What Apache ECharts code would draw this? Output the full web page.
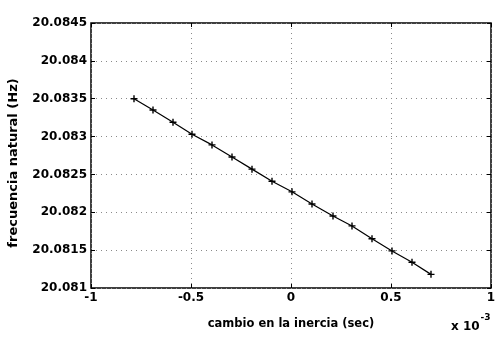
<!DOCTYPE html>
<html>
<head>
<meta charset="utf-8">
<script src="https://cdn.jsdelivr.net/npm/echarts@6/dist/echarts.min.js"></script>
<style>html,body{margin:0;padding:0;background:#fff;}#c{width:504px;height:342px;}</style>
</head>
<body>
<div id="c"></div>
<script>
// x values in units of 1e-3 sec
var inertiaChange = [-0.785, -0.69, -0.59, -0.495, -0.395, -0.295, -0.195, -0.095, 0.005, 0.105, 0.21, 0.305, 0.405, 0.505, 0.605, 0.70];
var naturalFreq = [20.08350, 20.08335, 20.08319, 20.08303, 20.08289, 20.08273, 20.08257, 20.08241, 20.08227, 20.08211, 20.08195, 20.08182, 20.08165, 20.08149, 20.08134, 20.08118];
var xTickLabels = ['-1', '-0.5', '0', '0.5', '1'];
var yTickLabels = ['20.081', '20.0815', '20.082', '20.0825', '20.083', '20.0835', '20.084', '20.0845'];
var xTitle = 'cambio en la inercia (sec)';
var yTitle = 'frecuencia natural (Hz)';

var FONT = 'DejaVu Sans';
var chart = echarts.init(document.getElementById('c'), null, {renderer: 'canvas'});
var data = inertiaChange.map(function (x, i) { return [x, naturalFreq[i]]; });
var gridLine = {show: true, lineStyle: {color: '#8a8a8a', type: [1, 4], width: 1}};
var tick = {show: true, inside: true, length: 4, lineStyle: {color: '#000'}};
chart.setOption({
  animation: false,
  backgroundColor: '#fff',
  grid: {left: 91, right: 13, top: 23, bottom: 54, show: true, borderColor: '#000', borderWidth: 1.5, containLabel: false},
  xAxis: [{
    type: 'value', min: -1, max: 1, interval: 0.5, position: 'bottom',
    axisLine: {show: false, onZero: false},
    axisTick: tick,
    splitLine: gridLine,
    axisLabel: {color: '#000', fontFamily: FONT, fontWeight: 'bold', fontSize: 12, margin: 4,
      formatter: function (v) { return xTickLabels[Math.round((v + 1) / 0.5)]; }},
    name: xTitle, nameLocation: 'middle', nameGap: 30,
    nameTextStyle: {color: '#000', fontFamily: FONT, fontWeight: 'bold', fontSize: 11.5}
  }, {
    type: 'value', min: -1, max: 1, interval: 0.5, position: 'top',
    axisLine: {show: false, onZero: false}, axisLabel: {show: false}, splitLine: {show: false},
    axisTick: tick
  }],
  yAxis: [{
    type: 'value', min: 20.081, max: 20.0845, interval: 0.0005, position: 'left',
    axisLine: {show: false, onZero: false},
    axisTick: tick,
    splitLine: gridLine,
    axisLabel: {color: '#000', fontFamily: FONT, fontWeight: 'bold', fontSize: 12, margin: 4,
      formatter: function (v) { return yTickLabels[Math.round((v - 20.081) / 0.0005)]; }}
  }, {
    type: 'value', min: 20.081, max: 20.0845, interval: 0.0005, position: 'right',
    axisLine: {show: false, onZero: false}, axisLabel: {show: false}, splitLine: {show: false},
    axisTick: tick
  }],
  graphic: [{
    type: 'text', x: 14, y: 163, rotation: Math.PI / 2,
    style: {text: yTitle, fontFamily: FONT, fontWeight: 'bold', fontSize: 13, fill: '#000',
      align: 'center', verticalAlign: 'middle'}
  }, {
    type: 'text', left: 451, top: 313,
    style: {
      text: '{a|x 10}{b|-3}',
      rich: {
        a: {fontFamily: FONT, fontWeight: 'bold', fontSize: 12, fill: '#000', padding: [8, 0, 0, 0]},
        b: {fontFamily: FONT, fontWeight: 'bold', fontSize: 9, fill: '#000', verticalAlign: 'top', padding: [0, 0, 6, 1]}
      }
    }
  }],
  series: [{
    type: 'line', data: data, xAxisIndex: 0, yAxisIndex: 0,
    lineStyle: {color: '#000', width: 1.2},
    symbol: 'path://M4,0H6V4H10V6H6V10H4V6H0V4H4Z', symbolSize: 7,
    itemStyle: {color: '#000'}
  }]
});
</script>
</body>
</html>
